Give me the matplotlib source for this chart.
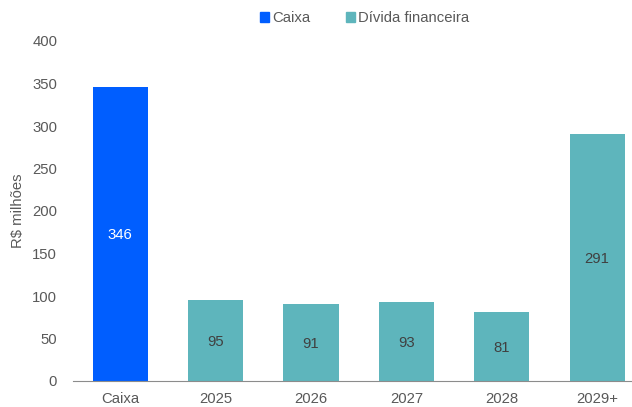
import matplotlib
matplotlib.use("Agg")
import matplotlib.pyplot as plt
from matplotlib.patches import Patch

categories = ["Caixa", "2025", "2026", "2027", "2028", "2029+"]
values = [346, 95, 91, 93, 81, 291]
series = ["Caixa", "Dívida financeira", "Dívida financeira", "Dívida financeira", "Dívida financeira", "Dívida financeira"]
yticks = [0, 50, 100, 150, 200, 250, 300, 350, 400]

colors = {"Caixa": "#005EFF", "Dívida financeira": "#5EB5BC"}
label_colors = {"Caixa": "white", "Dívida financeira": "#404040"}

FS = 10.7
plt.rcParams["font.family"] = ["Liberation Sans", "DejaVu Sans"]
fig = plt.figure(figsize=(6.32, 4.07), dpi=100)
ax = fig.add_axes([72.5/632, 1-381/407, 1-72.5/632, (381-41)/407])

x = list(range(len(categories)))
bars = ax.bar(x, values, width=0.58, color=[colors[s] for s in series])
for xi, v, s in zip(x, values, series):
    ax.text(xi, v/2, str(v), ha="center", va="center_baseline", fontsize=FS, color=label_colors[s])

ax.set_xlim(-0.5, 5.365)
ax.set_ylim(0, 400)
ax.set_yticks(yticks)
ax.set_xticks(x)
ax.set_xticklabels(categories)
ax.tick_params(axis="both", length=0, labelsize=FS, colors="#595959")
ax.tick_params(axis="y", pad=11)
ax.tick_params(axis="x", pad=8)
for sp in ["top", "right", "left"]:
    ax.spines[sp].set_visible(False)
ax.spines["bottom"].set_color("#8C8C8C")
ax.set_ylabel("R$ milhões", fontsize=FS, color="#595959", labelpad=5)

handles = [Patch(color=colors["Caixa"], label="Caixa"),
           Patch(color=colors["Dívida financeira"], label="Dívida financeira")]
leg = fig.legend(handles=handles, loc="center", bbox_to_anchor=(0.577, 0.955), ncol=2,
                 frameon=False, fontsize=FS, handlelength=0.6, handleheight=0.6,
                 handletextpad=0.2, columnspacing=2.4)
for t in leg.get_texts():
    t.set_color("#595959")

fig.savefig("out.png", dpi=100)
